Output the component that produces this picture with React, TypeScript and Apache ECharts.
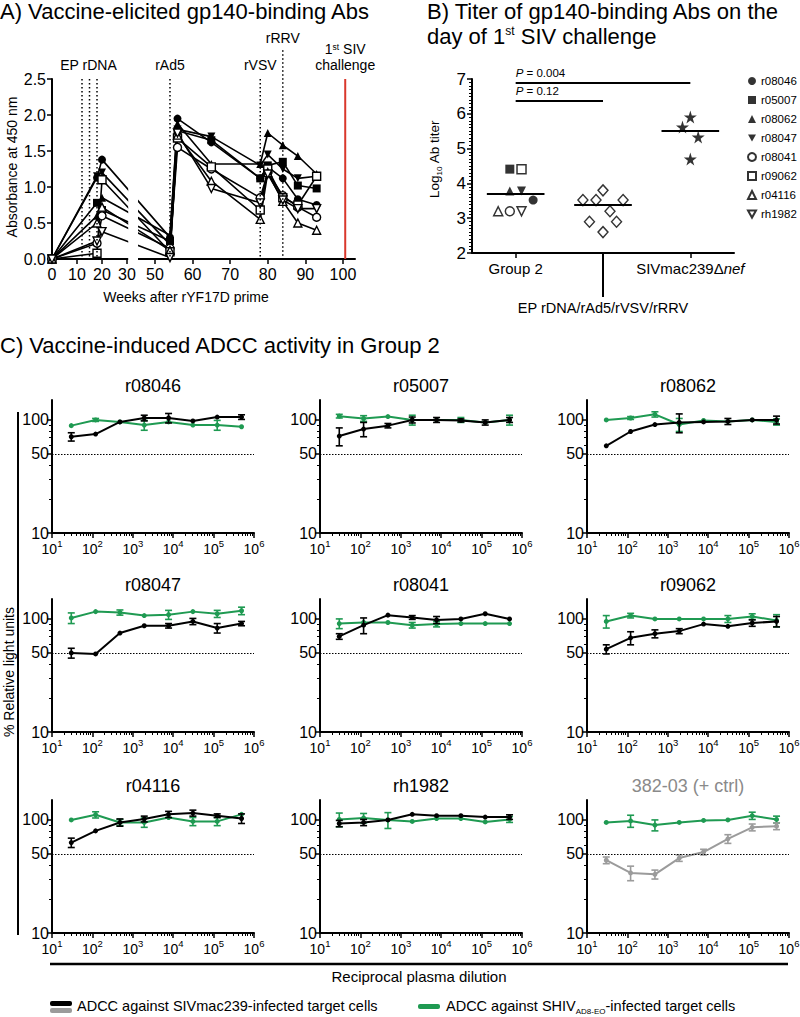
import React, { useEffect, useRef } from "react";
import * as echarts from "echarts";

const FONT = "'Liberation Sans', Arial, Helvetica, sans-serif";
const BLACK = "#000000";
const GREEN = "#1f9a52";
const GRAY = "#9b9b9b";
const RED = "#d9382c";
const TRI_DOWN = "path://M0,0L10,0L5,9Z";
const STAR = "path://M50,0L61,35L98,35L68,57L79,91L50,70L21,91L32,57L2,35L39,35Z";

// ================= Panel A: gp140-binding Abs (absorbance) =================
const animals = ["r08046", "r05007", "r08062", "r08047", "r08041", "r09062", "r04116", "rh1982"];
const weeks = [0, 18, 20, 54, 56, 65, 78, 80, 84, 88, 93];
const absR08046 = [0, 1.13, 1.38, 0.3, 1.95, 1.62, 1.12, 1.28, 1.12, 0.83, 0.75];
const absR05007 = [0, 0.78, 0.68, 0.25, 1.78, 1.65, 1.12, 1.3, 1.35, 1.02, 0.98];
const absR08062 = [0, 0.6, 0.85, 0.33, 1.88, 1.32, 1.32, 1.75, 1.58, 1.43, 1.18];
const absR08047 = [0, 1.15, 1.2, 0.2, 1.8, 1.7, 1.3, 1.45, 1.25, 1.12, 1.15];
const absR08041 = [0, 0.22, 0.6, 0.15, 1.55, 1.25, 0.85, 1.2, 0.88, 0.72, 0.58];
const absR09062 = [0, 0.08, 1.1, 0.1, 1.68, 1.28, 0.68, 1.25, 0.85, 0.75, 1.15];
const absR04116 = [0, 0.5, 0.72, 0.12, 1.72, 1.08, 0.55, 1.2, 0.8, 0.5, 0.4];
const absRh1982 = [0, 0.25, 0.38, 0.02, 1.75, 0.98, 0.78, 1.18, 0.82, 0.7, 0.7];
const absorbance = [absR08046, absR05007, absR08062, absR08047, absR08041, absR09062, absR04116, absRh1982];
const epRdnaWeeks = [12, 15, 18];
const rAd5Week = 54;
const rVsvWeek = 78;
const rRrvWeek = 84;
const challengeWeek = 100.6;
const weekTicks = [0, 10, 20, 30, 50, 60, 70, 80, 90, 100];

// broken week axis (two segments with different scales)
const GAP = 4.4;
const SEG2_START = 45.5;
const SEG2_SCALE = 1.504;
const WEEK_AXIS_END = 103.2;
const T = (w: number) => (w <= 30 ? w : 30 + GAP + (w - SEG2_START) * SEG2_SCALE);
const Tinv = (u: number) => (u <= 30.0001 ? u : SEG2_START + (u - 30 - GAP) / SEG2_SCALE);

// ================= Panel B: titers =================
const group2Titer = [3.52, 4.41, 3.78, 3.78, 3.2, 4.41, 3.2, 3.2];
const group2Jitter = [0.2, -0.067, -0.067, 0.067, -0.067, 0.067, -0.2, 0.067];
const group3Titer = [3.52, 2.9, 3.52, 3.8, 2.6, 3.2, 2.9, 3.52];
const group3Jitter = [-0.23, -0.155, -0.08, 0, 0, 0.08, 0.155, 0.23];
const nefTiter = [5.62, 5.91, 5.33, 4.7];
const nefJitter = [-0.09, 0, 0.09, 0];
const groupMeans = [3.7, 3.38, 5.5];
const pValues = ["0.004", "0.12"];
const pBarLevels = [6.88, 6.38];
const pBarEnds = [2, 1];
const groupLabels = ["Group 2", "EP rDNA/rAd5/rVSV/rRRV", "SIVmac239Δnef"];

// ================= Panel C: ADCC =================
const dilutions = [30, 120, 480, 1920, 7680, 30720, 122880, 491520];
const decadeTicks = [10, 100, 1000, 10000, 100000, 1000000];
const rluTicks = [10, 50, 100];

const sivR08046 = [71, 75, 96, 104, 104, 98, 106, 106];
const sivR08046Sd = [6, 0, 0, 6, 10, 0, 0, 5];
const shivR08046 = [89, 100, 96, 90, 96, 90, 90, 87];
const shivR08046Sd = [0, 3, 0, 9, 0, 0, 9, 0];

const sivR05007 = [72, 83, 89, 100, 100, 99, 95, 100];
const sivR05007Sd = [13, 12, 4, 6, 5, 3, 5, 5];
const shivR05007 = [108, 103, 107, 100, 100, 100, 95, 100];
const shivR05007Sd = [4, 6, 0, 10, 0, 5, 0, 10];

const sivR08062 = [59, 79, 91, 95, 96, 97, 100, 100];
const sivR08062Sd = [0, 0, 0, 18, 0, 6, 0, 8];
const shivR08062 = [100, 104, 112, 91, 99, 97, 100, 96];
const shivR08062Sd = [0, 3, 6, 12, 0, 0, 0, 6];

const sivR08047 = [50, 49, 75, 87, 87, 95, 83, 91];
const sivR08047Sd = [5, 0, 0, 0, 4, 6, 8, 4];
const shivR08047 = [102, 116, 114, 107, 109, 116, 111, 118];
const shivR08047Sd = [11, 0, 6, 0, 10, 0, 8, 9];

const sivR08041 = [70, 88, 108, 103, 98, 100, 111, 100];
const sivR08041Sd = [4, 14, 0, 4, 7, 0, 0, 0];
const shivR08041 = [91, 93, 93, 88, 90, 91, 91, 91];
const shivR08041Sd = [9, 0, 0, 5, 5, 0, 0, 0];

const sivR09062 = [54, 68, 74, 78, 90, 86, 92, 95];
const sivR09062Sd = [5, 9, 6, 4, 0, 0, 6, 10];
const shivR09062 = [95, 107, 100, 100, 100, 100, 105, 97];
const shivR09062Sd = [12, 5, 0, 0, 0, 7, 6, 12];

const sivR04116 = [63, 80, 95, 102, 112, 115, 109, 103];
const sivR04116Sd = [6, 0, 7, 6, 7, 7, 4, 10];
const shivR04116 = [100, 111, 95, 95, 105, 97, 97, 112];
const shivR04116Sd = [0, 7, 6, 9, 0, 8, 8, 0];

const sivRh1982 = [93, 95, 100, 112, 109, 109, 106, 106];
const sivRh1982Sd = [6, 6, 0, 0, 0, 0, 0, 5];
const shivRh1982 = [101, 104, 100, 97, 103, 103, 96, 101];
const shivRh1982Sd = [14, 10, 16, 0, 0, 0, 0, 6];

const siv38203 = [44, 34, 33, 46, 52, 68, 86, 88];
const siv38203Sd = [3, 5, 3, 3, 3, 6, 6, 6];
const shiv38203 = [95, 98, 90, 95, 99, 100, 109, 101];
const shiv38203Sd = [0, 12, 10, 0, 0, 0, 8, 7];

const cPanels = [
  { title: "r08046", siv: sivR08046, sivSd: sivR08046Sd, shiv: shivR08046, shivSd: shivR08046Sd, ctrl: false },
  { title: "r05007", siv: sivR05007, sivSd: sivR05007Sd, shiv: shivR05007, shivSd: shivR05007Sd, ctrl: false },
  { title: "r08062", siv: sivR08062, sivSd: sivR08062Sd, shiv: shivR08062, shivSd: shivR08062Sd, ctrl: false },
  { title: "r08047", siv: sivR08047, sivSd: sivR08047Sd, shiv: shivR08047, shivSd: shivR08047Sd, ctrl: false },
  { title: "r08041", siv: sivR08041, sivSd: sivR08041Sd, shiv: shivR08041, shivSd: shivR08041Sd, ctrl: false },
  { title: "r09062", siv: sivR09062, sivSd: sivR09062Sd, shiv: shivR09062, shivSd: shivR09062Sd, ctrl: false },
  { title: "r04116", siv: sivR04116, sivSd: sivR04116Sd, shiv: shivR04116, shivSd: shivR04116Sd, ctrl: false },
  { title: "rh1982", siv: sivRh1982, sivSd: sivRh1982Sd, shiv: shivRh1982, shivSd: shivRh1982Sd, ctrl: false },
  { title: "382-03 (+ ctrl)", siv: siv38203, sivSd: siv38203Sd, shiv: shiv38203, shivSd: shiv38203Sd, ctrl: true },
];

// styling (not data)
const animalSymbol = ["circle", "rect", "triangle", TRI_DOWN, "circle", "rect", "triangle", TRI_DOWN];
const animalOpen = [false, false, false, false, true, true, true, true];
const colLeft = [52, 320, 587];
const rowTop = [400, 599, 800];
const C_W = 202;
const C_H = 133;

function minorDecadeTicks(): number[] {
  const out: number[] = [];
  for (let e = 1; e < 6; e++) for (let k = 2; k <= 9; k++) out.push(k * Math.pow(10, e));
  return out;
}

const axisLineStyle = { show: true, onZero: false, lineStyle: { color: BLACK, width: 2 } };

function errorBars(xi: number, yi: number, means: number[], sds: number[], color: string, z: number): any {
  const data = dilutions
    .map((d, i) => (sds[i] > 0 ? [d, means[i] - sds[i], means[i] + sds[i]] : null))
    .filter((d) => d !== null);
  return {
    type: "custom",
    xAxisIndex: xi,
    yAxisIndex: yi,
    dimensions: ["x", "lo", "hi"],
    encode: { x: 0, y: [1, 2] },
    data,
    z,
    silent: true,
    renderItem: (params: any, api: any) => {
      const x = api.value(0);
      const a = api.coord([x, api.value(1)]);
      const b = api.coord([x, api.value(2)]);
      const w = 3.5;
      const st = { stroke: color, lineWidth: 1.6 };
      return {
        type: "group",
        children: [
          { type: "line", shape: { x1: a[0], y1: a[1], x2: b[0], y2: b[1] }, style: st },
          { type: "line", shape: { x1: a[0] - w, y1: a[1], x2: a[0] + w, y2: a[1] }, style: st },
          { type: "line", shape: { x1: b[0] - w, y1: b[1], x2: b[0] + w, y2: b[1] }, style: st },
        ],
      };
    },
  };
}

function buildOption(): any {
  const grid: any[] = [];
  const xAxis: any[] = [];
  const yAxis: any[] = [];
  const series: any[] = [];

  // ---------- A ----------
  grid.push({ left: 52, top: 79, width: 303, height: 180, containLabel: false, outerBoundsMode: "none" });
  xAxis.push({
    gridIndex: 0,
    type: "value",
    min: 0,
    max: T(WEEK_AXIS_END),
    position: "bottom",
    axisLine: axisLineStyle,
    axisTick: { show: true, customValues: weekTicks.map(T), length: 5, lineStyle: { color: BLACK, width: 1.5 } },
    axisLabel: {
      show: true,
      customValues: weekTicks.map(T),
      formatter: (v: number) => String(Math.round(Tinv(v))),
      fontSize: 16,
      color: BLACK,
      margin: 7,
    },
    splitLine: { show: false },
  });
  yAxis.push({
    gridIndex: 0,
    type: "value",
    min: 0,
    max: 2.5,
    interval: 0.5,
    position: "left",
    axisLine: axisLineStyle,
    axisTick: { show: true, length: 5, lineStyle: { color: BLACK, width: 1.5 } },
    axisLabel: { show: true, formatter: (v: number) => v.toFixed(1), fontSize: 16, color: BLACK, margin: 6 },
    splitLine: { show: false },
  });
  absorbance.forEach((vals, k) => {
    series.push({
      type: "line",
      name: "A-" + animals[k],
      xAxisIndex: 0,
      yAxisIndex: 0,
      data: weeks.map((w, i) => [T(w), vals[i]]),
      symbol: animalSymbol[k],
      symbolSize: 8,
      itemStyle: { color: animalOpen[k] ? "#fff" : BLACK, borderColor: BLACK, borderWidth: animalOpen[k] ? 1.4 : 0 },
      lineStyle: { color: BLACK, width: 1.6 },
      clip: true,
      z: 3,
    });
  });

  // ---------- B ----------
  grid.push({ left: 472, top: 79, width: 262, height: 174, containLabel: false, outerBoundsMode: "none" });
  xAxis.push({
    gridIndex: 1,
    type: "value",
    min: -0.5,
    max: 2.5,
    position: "bottom",
    axisLine: axisLineStyle,
    axisTick: { show: true, customValues: [0, 2], length: 5, lineStyle: { color: BLACK, width: 1.5 } },
    axisLabel: {
      show: true,
      customValues: [0, 2],
      formatter: (v: number) => (v < 1 ? "{a|" + groupLabels[0] + "}" : "{a|SIVmac239Δ}{i|nef}"),
      rich: { a: { fontSize: 15, color: BLACK }, i: { fontSize: 15, fontStyle: "italic", color: BLACK } },
      margin: 8,
    },
    splitLine: { show: false },
  });
  xAxis.push({
    gridIndex: 1,
    type: "value",
    min: -0.5,
    max: 2.5,
    position: "bottom",
    offset: 0,
    axisLine: { show: false },
    axisTick: { show: true, customValues: [1], length: 44, lineStyle: { color: BLACK, width: 2 } },
    axisLabel: { show: true, customValues: [1], formatter: () => groupLabels[1], fontSize: 14.5, color: BLACK, margin: 47 },
    splitLine: { show: false },
  });
  yAxis.push({
    gridIndex: 1,
    type: "value",
    min: 2,
    max: 7,
    interval: 1,
    position: "left",
    axisLine: axisLineStyle,
    axisTick: { show: true, length: 5, lineStyle: { color: BLACK, width: 1.5 } },
    minorTick: { show: true, splitNumber: 10, length: 3, lineStyle: { color: BLACK, width: 1 } },
    axisLabel: { show: true, fontSize: 17, color: BLACK, margin: 6 },
    splitLine: { show: false },
    minorSplitLine: { show: false },
  });
  animals.forEach((a, k) => {
    series.push({
      type: "scatter",
      name: a,
      xAxisIndex: 1,
      yAxisIndex: 1,
      data: [[group2Jitter[k], group2Titer[k]]],
      symbol: animalSymbol[k],
      symbolSize: 9,
      itemStyle: { color: animalOpen[k] ? "#fff" : BLACK, borderColor: BLACK, borderWidth: animalOpen[k] ? 1.5 : 0 },
      z: 4,
    });
  });
  series.push({
    type: "scatter",
    name: groupLabels[1],
    xAxisIndex: 1,
    yAxisIndex: 1,
    data: group3Titer.map((v, i) => [1 + group3Jitter[i], v]),
    symbol: "diamond",
    symbolSize: [10, 11],
    itemStyle: { color: "#fff", borderColor: BLACK, borderWidth: 1.4 },
    z: 4,
    markLine: {
      silent: true,
      symbol: ["none", "none"],
      label: { show: false },
      lineStyle: { color: BLACK, width: 2, type: "solid" },
      data: [
        ...groupMeans.map((m, gi) => [{ coord: [gi - 0.33, m] }, { coord: [gi + 0.33, m] }]),
        ...pBarLevels.map((lv, i) => [{ coord: [0, lv] }, { coord: [pBarEnds[i], lv] }]),
      ],
    },
  });
  series.push({
    type: "scatter",
    name: groupLabels[2],
    xAxisIndex: 1,
    yAxisIndex: 1,
    data: nefTiter.map((v, i) => [2 + nefJitter[i], v]),
    symbol: STAR,
    symbolSize: 13,
    itemStyle: { color: BLACK },
    z: 4,
  });

  // ---------- C ----------
  const minorX = minorDecadeTicks();
  cPanels.forEach((p, idx) => {
    const r = Math.floor(idx / 3);
    const c = idx % 3;
    const gi = grid.length;
    grid.push({ left: colLeft[c], top: rowTop[r], width: C_W, height: C_H, containLabel: false, outerBoundsMode: "none" });
    const xi = xAxis.length;
    xAxis.push({
      gridIndex: gi,
      type: "log",
      logBase: 10,
      min: 10,
      max: 1000000,
      position: "bottom",
      axisLine: axisLineStyle,
      axisTick: { show: true, customValues: decadeTicks, length: 5, lineStyle: { color: BLACK, width: 1.5 } },
      axisLabel: {
        show: true,
        customValues: decadeTicks,
        formatter: (v: number) => "{b|10}{s|" + Math.round(Math.log10(v)) + "}",
        rich: {
          b: { fontSize: 14, lineHeight: 18, verticalAlign: "bottom", color: BLACK },
          s: { fontSize: 9.5, lineHeight: 10, verticalAlign: "top", color: BLACK },
        },
        margin: 5,
      },
      splitLine: { show: false },
      minorTick: { show: false },
    });
    xAxis.push({
      gridIndex: gi,
      type: "log",
      logBase: 10,
      min: 10,
      max: 1000000,
      position: "bottom",
      offset: 0,
      axisLine: { show: false },
      axisTick: { show: true, customValues: minorX, length: 3, lineStyle: { color: BLACK, width: 1 } },
      axisLabel: { show: false },
      splitLine: { show: false },
    });
    const yi = yAxis.length;
    yAxis.push({
      gridIndex: gi,
      type: "log",
      logBase: 10,
      min: 10,
      max: 150,
      position: "left",
      axisLine: axisLineStyle,
      axisTick: { show: true, customValues: rluTicks, length: 5, lineStyle: { color: BLACK, width: 1.5 } },
      axisLabel: { show: true, customValues: rluTicks, fontSize: 16, color: BLACK, margin: 3 },
      splitLine: { show: false },
    });
    yAxis.push({
      gridIndex: gi,
      type: "log",
      logBase: 10,
      min: 10,
      max: 150,
      position: "left",
      offset: 0,
      axisLine: { show: false },
      axisTick: { show: true, customValues: [20, 30, 40, 60, 70, 80, 90], length: 3, lineStyle: { color: BLACK, width: 1 } },
      axisLabel: { show: false },
      splitLine: { show: false },
    });
    const sivColor = p.ctrl ? GRAY : BLACK;
    series.push({
      type: "line",
      name: p.title + " SHIV",
      xAxisIndex: xi,
      yAxisIndex: yi,
      data: dilutions.map((d, i) => [d, p.shiv[i]]),
      symbol: "circle",
      symbolSize: 5,
      itemStyle: { color: GREEN },
      lineStyle: { color: GREEN, width: 2 },
      z: 3,
      markLine: {
        silent: true,
        symbol: ["none", "none"],
        label: { show: false },
        lineStyle: { color: BLACK, width: 1.2, type: [1.5, 1.5] },
        data: [{ yAxis: 50 }],
      },
    });
    series.push(errorBars(xi, yi, p.shiv, p.shivSd, GREEN, 3));
    series.push({
      type: "line",
      name: p.title + " SIV",
      xAxisIndex: xi,
      yAxisIndex: yi,
      data: dilutions.map((d, i) => [d, p.siv[i]]),
      symbol: "circle",
      symbolSize: 5,
      itemStyle: { color: sivColor },
      lineStyle: { color: sivColor, width: 2 },
      z: 4,
    });
    series.push(errorBars(xi, yi, p.siv, p.sivSd, sivColor, 4));
  });

  return {
    animation: false,
    backgroundColor: "#ffffff",
    textStyle: { fontFamily: FONT, color: BLACK },
    grid,
    xAxis,
    yAxis,
    series,
    legend: [
      {
        data: animals,
        orient: "vertical",
        left: 747,
        top: 75,
        itemWidth: 8,
        itemHeight: 8,
        itemGap: 7,
        padding: 0,
        selectedMode: false,
        textStyle: { fontSize: 11.5, color: BLACK, fontFamily: FONT, lineHeight: 12 },
      },
    ],
  };
}

function buildGraphics(chart: any): any[] {
  const g: any[] = [];
  const pA = (w: number, v: number) => chart.convertToPixel({ gridIndex: 0 }, [T(w), v]) as number[];
  const pB = (x: number, v: number) => chart.convertToPixel({ gridIndex: 1 }, [x, v]) as number[];
  const text = (t: string, x: number, y: number, o: any = {}) => ({
    type: "text",
    x,
    y,
    rotation: o.rotation || 0,
    z: 50,
    style: {
      text: t,
      fill: o.color || BLACK,
      fontSize: o.size || 14,
      fontFamily: FONT,
      fontStyle: o.italic ? "italic" : "normal",
      align: o.align || "center",
      verticalAlign: "middle",
      rich: o.rich,
    },
  });
  const line = (x1: number, y1: number, x2: number, y2: number, stroke: string, w: number, dash?: number[]) => ({
    type: "line",
    z: 40,
    shape: { x1, y1, x2, y2 },
    style: { stroke, lineWidth: w, lineDash: dash },
  });

  // --- titles ---
  g.push(text("A) Vaccine-elicited gp140-binding Abs", 0, 11, { size: 22, align: "left" }));
  g.push(text("B) Titer of gp140-binding Abs on the", 427, 11, { size: 22, align: "left" }));
  g.push(
    text("{a|day of 1}{s|st}{a| SIV challenge}", 427, 36, {
      align: "left",
      rich: {
        a: { fontSize: 22, lineHeight: 22, verticalAlign: "bottom", fontFamily: FONT },
        s: { fontSize: 12, lineHeight: 10, verticalAlign: "top", fontFamily: FONT },
      },
    })
  );
  g.push(text("C) Vaccine-induced ADCC activity in Group 2", 0, 345, { size: 22, align: "left" }));

  // --- panel A annotations ---
  const yTop = pA(0, 2.5)[1];
  const yBot = pA(0, 0)[1];
  const dotted = [1.5, 2.5];
  // gap mask for the broken axis
  const x30 = pA(30, 0)[0];
  const xSeg2 = pA(SEG2_START, 0)[0];
  g.push({ type: "rect", z: 100, shape: { x: x30 + 1.2, y: 60, width: xSeg2 - x30 - 1.2, height: 205 }, style: { fill: "#fff" } });
  epRdnaWeeks.forEach((w) => {
    const x = pA(w, 0)[0];
    g.push(line(x, yTop, x, yBot, BLACK, 1.5, dotted));
  });
  [rAd5Week, rVsvWeek].forEach((w) => {
    const x = pA(w, 0)[0];
    g.push(line(x, yTop, x, yBot, BLACK, 1.5, dotted));
  });
  const xRrv = pA(rRrvWeek, 0)[0];
  g.push(line(xRrv, pA(rRrvWeek, 2.9)[1], xRrv, yBot, BLACK, 1.5, dotted));
  const xCh = pA(challengeWeek, 0)[0];
  g.push(line(xCh, yTop, xCh, yBot, RED, 2));
  g.push(text("EP rDNA", pA(epRdnaWeeks[1], 0)[0] - 1, 65, { size: 14 }));
  g.push(text("rAd5", pA(rAd5Week, 0)[0], 65, { size: 14 }));
  g.push(text("rVSV", pA(rVsvWeek, 0)[0], 65, { size: 14 }));
  g.push(text("rRRV", xRrv, 38, { size: 14 }));
  g.push(
    text("{a|1}{s|st}{a| SIV}", xCh, 49, {
      rich: {
        a: { fontSize: 14, lineHeight: 14, verticalAlign: "bottom", fontFamily: FONT },
        s: { fontSize: 8.5, lineHeight: 8, verticalAlign: "top", fontFamily: FONT },
      },
    })
  );
  g.push(text("challenge", xCh, 65, { size: 14 }));
  g.push(text("Absorbance at 450 nm", 12, 167, { size: 14, rotation: Math.PI / 2 }));
  g.push(text("Weeks after rYF17D prime", 186, 297, { size: 14 }));

  // --- panel B annotations ---
  pBarLevels.forEach((lv, i) => {
    const p = pB(0, lv);
    g.push(
      text("{i|P}{a| = " + pValues[i] + "}", p[0], p[1] - 10, {
        align: "left",
        rich: {
          i: { fontSize: 11.5, fontStyle: "italic", fontFamily: FONT },
          a: { fontSize: 11.5, fontFamily: FONT },
        },
      })
    );
  });
  g.push(
    text("{a|Log}{s|10}{a| Ab titer}", 435, 159, {
      rotation: Math.PI / 2,
      rich: {
        a: { fontSize: 13.5, lineHeight: 16, verticalAlign: "top", fontFamily: FONT },
        s: { fontSize: 8, lineHeight: 8, verticalAlign: "bottom", fontFamily: FONT },
      },
    })
  );

  // --- panel C annotations ---
  cPanels.forEach((p, idx) => {
    const r = Math.floor(idx / 3);
    const c = idx % 3;
    g.push(text(p.title, colLeft[c] + C_W / 2, rowTop[r] - 14, { size: 18, color: p.ctrl ? "#8a8a8a" : BLACK }));
  });
  g.push(line(18, 412, 18, 935, BLACK, 2));
  g.push(text("% Relative light units", 9, 672, { size: 14, rotation: Math.PI / 2 }));
  g.push(line(50, 964, 788, 964, BLACK, 2.5));
  g.push(text("Reciprocal plasma dilution", 419, 976, { size: 15 }));

  // legend for C
  g.push({ type: "rect", z: 40, shape: { x: 50, y: 1001, width: 22, height: 5, r: 2 }, style: { fill: BLACK } });
  g.push({ type: "rect", z: 40, shape: { x: 50, y: 1008, width: 22, height: 5, r: 2 }, style: { fill: GRAY } });
  g.push(text("ADCC against SIVmac239-infected target cells", 77, 1006, { size: 14.5, align: "left" }));
  g.push({ type: "rect", z: 40, shape: { x: 418, y: 1004, width: 22, height: 5, r: 2 }, style: { fill: GREEN } });
  g.push(
    text("{a|ADCC against SHIV}{s|AD8-EO}{a|-infected target cells}", 446, 1007, {
      align: "left",
      rich: {
        a: { fontSize: 14.5, lineHeight: 17, verticalAlign: "top", fontFamily: FONT },
        s: { fontSize: 8, lineHeight: 8, verticalAlign: "bottom", fontFamily: FONT },
      },
    })
  );
  return g;
}

export default function App() {
  const ref = useRef<HTMLDivElement>(null);
  useEffect(() => {
    if (!ref.current) return;
    const chart = echarts.init(ref.current, undefined, { renderer: "svg" });
    chart.setOption(buildOption());
    chart.setOption({ graphic: buildGraphics(chart) });
    return () => chart.dispose();
  }, []);
  return (
    <div
      ref={ref}
      style={{ position: "absolute", left: 0, top: 0, width: 800, height: 1017, background: "#fff" }}
    />
  );
}
